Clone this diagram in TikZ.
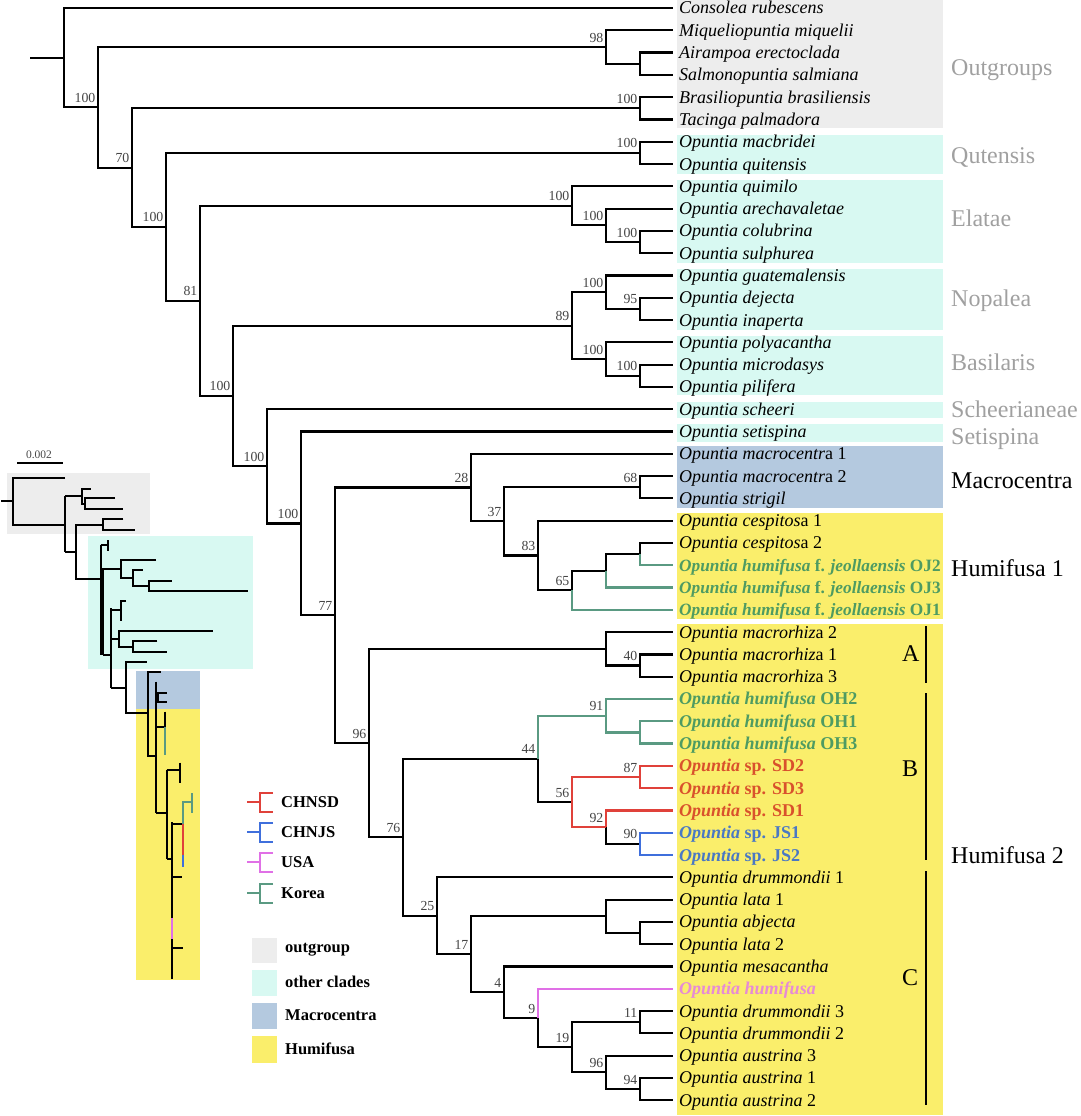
\documentclass[tikz,border=0pt]{standalone}
\usepackage{fontspec}
\setmainfont{Liberation Serif}
\usetikzlibrary{calc}
\definecolor{gbox}{HTML}{EDEDED}
\definecolor{cbox}{HTML}{D8F9F2}
\definecolor{bbox}{HTML}{B4C9DF}
\definecolor{ybox}{HTML}{FAEE6B}
\definecolor{kgreen}{HTML}{5A9A82}
\definecolor{tgreen}{HTML}{4E9B62}
\definecolor{kred}{HTML}{E0413A}
\definecolor{tred}{HTML}{D9512C}
\definecolor{kblue}{HTML}{3F6FDC}
\definecolor{tblue}{HTML}{4A78C4}
\definecolor{kpink}{HTML}{E070E6}
\definecolor{tpink}{HTML}{E68AD6}
\definecolor{cladegray}{HTML}{A0A0A0}
\definecolor{bsgray}{HTML}{444444}
\newcommand\mkleaf[3][black]{%
  \coordinate (t#2) at (673,{8+(#2-1)*22.29});
  \node[leaf,text=#1] (L#2) at (679,{14+(#2-1)*22.29}) {#3};}
\newcommand\mkin[4]{%
  \path let \p1=($(#3)!0.5!(#4)$) in coordinate (#1) at ({round(64+33.88*#2)*1pt},\y1);}
\newcommand\ojfont{\fontsize{17.3}{20}\selectfont}
\tikzset{
  br/.style={line width=2.2pt},
  ins/.style={line width=2pt},
  leaf/.style={anchor=base west, inner sep=0pt, font=\fontsize{18}{20}\selectfont},
  bsl/.style={anchor=base east, inner sep=0pt, text=bsgray, font=\fontsize{13.8}{14}\selectfont},
  clade/.style={anchor=base west, inner sep=0pt, text=cladegray, font=\fontsize{24}{26}\selectfont},
  legtxt/.style={anchor=west, inner sep=0pt, font=\bfseries\fontsize{16.5}{18}\selectfont},
  legicon/.style={line width=2pt},
}
\begin{document}
\begin{tikzpicture}[x=1pt,y=-1pt]
\useasboundingbox (0,0) rectangle (1080,1116);
% ---------- clade boxes (main tree)
\fill[gbox] (677,0) rectangle (943,128);
\fill[cbox] (677,135) rectangle (943,174);
\fill[cbox] (677,180) rectangle (943,263);
\fill[cbox] (677,269) rectangle (943,330);
\fill[cbox] (677,336) rectangle (943,395);
\fill[cbox] (677,402) rectangle (943,418);
\fill[cbox] (677,424) rectangle (943,442);
\fill[bbox] (677,446) rectangle (943,508);
\fill[ybox] (677,513) rectangle (943,619);
\fill[ybox] (677,624) rectangle (943,1115);
% ---------- leaves
\mkleaf{1}{\textit{Consolea rubescens}}
\mkleaf{2}{\textit{Miqueliopuntia miquelii}}
\mkleaf{3}{\textit{Airampoa erectoclada}}
\mkleaf{4}{\textit{Salmonopuntia salmiana}}
\mkleaf{5}{\textit{Brasiliopuntia brasiliensis}}
\mkleaf{6}{\textit{Tacinga palmadora}}
\mkleaf{7}{\textit{Opuntia macbridei}}
\mkleaf{8}{\textit{Opuntia quitensis}}
\mkleaf{9}{\textit{Opuntia quimilo}}
\mkleaf{10}{\textit{Opuntia arechavaletae}}
\mkleaf{11}{\textit{Opuntia colubrina}}
\mkleaf{12}{\textit{Opuntia sulphurea}}
\mkleaf{13}{\textit{Opuntia guatemalensis}}
\mkleaf{14}{\textit{Opuntia dejecta}}
\mkleaf{15}{\textit{Opuntia inaperta}}
\mkleaf{16}{\textit{Opuntia polyacantha}}
\mkleaf{17}{\textit{Opuntia microdasys}}
\mkleaf{18}{\textit{Opuntia pilifera}}
\mkleaf{19}{\textit{Opuntia scheeri}}
\mkleaf{20}{\textit{Opuntia setispina}}
\mkleaf{21}{\textit{Opuntia macrocentr}a 1}
\mkleaf{22}{\textit{Opuntia macrocentr}a 2}
\mkleaf{23}{\textit{Opuntia strigil}}
\mkleaf{24}{\textit{Opuntia cespitos}a 1}
\mkleaf{25}{\textit{Opuntia cespitos}a 2}
\mkleaf[tgreen]{26}{\ojfont\textbf{\textit{Opuntia humifusa} f. \textit{jeollaensis} OJ2}}
\mkleaf[tgreen]{27}{\ojfont\textbf{\textit{Opuntia humifusa} f. \textit{jeollaensis} OJ3}}
\mkleaf[tgreen]{28}{\ojfont\textbf{\textit{Opuntia humifusa} f. \textit{jeollaensis} OJ1}}
\mkleaf{29}{\textit{Opuntia macrorhiz}a 2}
\mkleaf{30}{\textit{Opuntia macrorhiz}a 1}
\mkleaf{31}{\textit{Opuntia macrorhiz}a 3}
\mkleaf[tgreen]{32}{\textbf{\textit{Opuntia humifusa} OH2}}
\mkleaf[tgreen]{33}{\textbf{\textit{Opuntia humifusa} OH1}}
\mkleaf[tgreen]{34}{\textbf{\textit{Opuntia humifusa} OH3}}
\mkleaf[tred]{35}{\textbf{\textit{Opuntia} sp. SD2}}
\mkleaf[tred]{36}{\textbf{\textit{Opuntia} sp. SD3}}
\mkleaf[tred]{37}{\textbf{\textit{Opuntia} sp. SD1}}
\mkleaf[tblue]{38}{\textbf{\textit{Opuntia} sp. JS1}}
\mkleaf[tblue]{39}{\textbf{\textit{Opuntia} sp. JS2}}
\mkleaf{40}{\textit{Opuntia drummondii} 1}
\mkleaf{41}{\textit{Opuntia lata} 1}
\mkleaf{42}{\textit{Opuntia abjecta}}
\mkleaf{43}{\textit{Opuntia lata} 2}
\mkleaf{44}{\textit{Opuntia mesacantha}}
\mkleaf[tpink]{45}{\textbf{\textit{Opuntia humifusa}}}
\mkleaf{46}{\textit{Opuntia drummondii} 3}
\mkleaf{47}{\textit{Opuntia drummondii} 2}
\mkleaf{48}{\textit{Opuntia austrina} 3}
\mkleaf{49}{\textit{Opuntia austrina} 1}
\mkleaf{50}{\textit{Opuntia austrina} 2}
% ---------- internal nodes
\mkin{A34}{17}{t3}{t4}
\mkin{M}{16}{t2}{A34}
\mkin{BT}{17}{t5}{t6}
\mkin{Q}{17}{t7}{t8}
\mkin{E3}{17}{t11}{t12}
\mkin{E2}{16}{t10}{E3}
\mkin{E}{15}{t9}{E2}
\mkin{NO2}{17}{t14}{t15}
\mkin{NO}{16}{t13}{NO2}
\mkin{BA2}{17}{t17}{t18}
\mkin{BA}{16}{t16}{BA2}
\mkin{NB}{15}{NO}{BA}
\mkin{C68}{17}{t22}{t23}
\mkin{G2}{17}{t25}{t26}
\mkin{G1}{16}{G2}{t27}
\mkin{C65}{15}{G1}{t28}
\mkin{C83}{14}{t24}{C65}
\mkin{C37}{13}{C68}{C83}
\mkin{C28}{12}{t21}{C37}
\mkin{A40}{17}{t30}{t31}
\mkin{A1}{16}{t29}{A40}
\mkin{G3}{17}{t33}{t34}
\mkin{C91}{16}{t32}{G3}
\mkin{C87}{17}{t35}{t36}
\mkin{C90}{17}{t38}{t39}
\mkin{C92}{16}{t37}{C90}
\mkin{C56}{15}{C87}{C92}
\mkin{C44}{14}{C91}{C56}
\mkin{X2}{17}{t42}{t43}
\mkin{X1}{16}{t41}{X2}
\mkin{C11}{17}{t46}{t47}
\mkin{C94}{17}{t49}{t50}
\mkin{C96b}{16}{t48}{C94}
\mkin{C19}{15}{C11}{C96b}
\mkin{C9}{14}{t45}{C19}
\mkin{C4}{13}{t44}{C9}
\mkin{C17}{12}{X1}{C4}
\mkin{C25}{11}{t40}{C17}
\mkin{C76}{10}{C44}{C25}
\mkin{C96}{9}{A1}{C76}
\mkin{N9}{8}{C28}{C96}
\mkin{N8}{7}{t20}{N9}
\mkin{N7}{6}{t19}{N8}
\mkin{N6}{5}{NB}{N7}
\mkin{N5}{4}{E}{N6}
\mkin{N4}{3}{Q}{N5}
\mkin{N3}{2}{BT}{N4}
\mkin{N2}{1}{M}{N3}
\mkin{R}{0}{t1}{N2}
\coordinate (R0) at ($(R)+(-34,0)$);
% ---------- branches
\draw[br] (R0) -- (R);
\foreach \a/\b in {R/t1,R/N2,N2/M,N2/N3,M/t2,M/A34,A34/t3,A34/t4,N3/BT,N3/N4,BT/t5,BT/t6,
  N4/Q,N4/N5,Q/t7,Q/t8,N5/E,N5/N6,E/t9,E/E2,E2/t10,E2/E3,E3/t11,E3/t12,N6/NB,N6/N7,
  NB/NO,NB/BA,NO/t13,NO/NO2,NO2/t14,NO2/t15,BA/t16,BA/BA2,BA2/t17,BA2/t18,N7/t19,N7/N8,
  N8/t20,N8/N9,N9/C28,N9/C96,C28/t21,C28/C37,C37/C68,C37/C83,C68/t22,C68/t23,C83/t24,
  C83/C65,C65/G1,G1/G2,G2/t25,C96/A1,C96/C76,A1/t29,A1/A40,A40/t30,A40/t31,C76/C44,
  C76/C25,C44/C56,C92/C90,C25/t40,C25/C17,C17/X1,C17/C4,X1/t41,X1/X2,X2/t42,X2/t43,
  C4/t44,C4/C9,C9/C19,C19/C11,C19/C96b,C11/t46,C11/t47,C96b/t48,C96b/C94,C94/t49,C94/t50}
  {\draw[br] (\a) |- (\b);}
\foreach \a/\b in {G2/t26,G1/t27,C65/t28,C44/C91,C91/t32,C91/G3,G3/t33,G3/t34}
  {\draw[br,kgreen] (\a) |- (\b);}
\foreach \a/\b in {C56/C87,C87/t35,C87/t36,C56/C92,C92/t37}
  {\draw[br,kred] (\a) |- (\b);}
\foreach \a/\b in {C90/t38,C90/t39}
  {\draw[br,kblue] (\a) |- (\b);}
\draw[br,kpink] (C9) |- (t45);
% ---------- bootstrap values
\foreach \n/\v in {N2/100,N3/70,N4/100,N5/81,N6/100,N7/100,N8/100,N9/77,M/98,BT/100,Q/100,
  E/100,E2/100,E3/100,NB/89,NO/100,NO2/95,BA/100,BA2/100,C28/28,C37/37,C68/68,C83/83,
  C65/65,C96/96,A40/40,C76/76,C44/44,C91/91,C56/56,C87/87,C92/92,C90/90,C25/25,C17/17,
  C4/4,C9/9,C19/19,C11/11,C96b/96,C94/94}
  {\node[bsl] (b-\n) at ($(\n)+(-2.5,-5)$) {\v};}
% ---------- clade names
\node[clade] (cl1) at (951,75) {Outgroups};
\node[clade] (cl2) at (951,163) {Qutensis};
\node[clade] (cl3) at (951,226) {Elatae};
\node[clade] (cl4) at (951,306) {Nopalea};
\node[clade] (cl5) at (951,370) {Basilaris};
\node[clade] (cl6) at (951,417) {Scheerianeae};
\node[clade] (cl7) at (951,444) {Setispina};
\node[clade,text=black] (cl8) at (951,488) {Macrocentra};
\node[clade,text=black] (cl9) at (951,576) {Humifusa 1};
\node[clade,text=black] (cl10) at (951,863) {Humifusa 2};
\node[clade,text=black] (sA) at (902,661) {A};
\node[clade,text=black] (sB) at (902,776) {B};
\node[clade,text=black] (sC) at (902,985) {C};
\draw[line width=1.6pt] (926,626) -- (926,683);
\draw[line width=1.6pt] (926,693) -- (926,860);
\draw[line width=1.6pt] (926,871) -- (926,1105);
% ---------- legend
\foreach \y/\c/\t/\nm in {802/kred/CHNSD/lg1,832/kblue/CHNJS/lg2,862/kpink/USA/lg3,893/kgreen/Korea/lg4}{
  \draw[legicon,\c] (247,\y) -- (260,\y);
  \draw[legicon,\c] (273,\y-9.5) -- (260,\y-9.5) -- (260,\y+9.5) -- (273,\y+9.5);
  \node[legtxt] (\nm) at (281,\y) {\t};}
\foreach \ya/\yb/\c/\t/\nm in {938/963/gbox/outgroup/lb1,970/996/cbox/other clades/lb2,
  1003/1029/bbox/Macrocentra/lb3,1036/1063/ybox/Humifusa/lb4}{
  \fill[\c] (252,\ya) rectangle (277,\yb);
  \node[legtxt] (\nm) at (285,{(\ya+\yb)/2-1}) {\t};}
% ---------- inset tree
\fill[gbox] (7,473) rectangle (150,534);
\fill[cbox] (88,536) rectangle (253,669);
\fill[bbox] (136,671) rectangle (200,709);
\fill[ybox] (136,709) rectangle (200,980);
\node[inner sep=0pt,text=bsgray,font=\fontsize{11.5}{12}\selectfont] (sc) at (39,455) {0.002};
\draw[line width=1.8pt] (17,463) -- (63,463);
\draw[ins] (1,500.7) -- (12.7,500.7);
\draw[ins] (65,477.7) -- (12.7,477.7) -- (12.7,524.5) -- (65,524.5);
\draw[ins] (65,496.4) -- (65,551.5);
\draw[ins] (65,496.4) -- (81.7,496.4);
\draw[ins] (90.7,488.5) -- (81.7,488.5) -- (81.7,504.3) -- (85,504.3);
\draw[ins] (115,498.2) -- (85,498.2) -- (85,509) -- (122.7,509);
\draw[ins] (65,551.5) -- (76,551.5);
\draw[ins] (102.7,524.5) -- (76,524.5) -- (76,578.5) -- (100.7,578.5);
\draw[ins] (123.3,518.7) -- (102.7,518.7) -- (102.7,529.5) -- (135,529.5);
\draw[ins] (100.7,545) -- (100.7,655);
\draw[ins] (103,570) -- (103,655);
\draw[ins] (100.7,545) -- (108.3,545);
\draw[ins] (108.3,540) -- (108.3,550.7);
\draw[ins] (100.7,569.3) -- (120.7,569.3);
\draw[ins] (156,560) -- (120.7,560) -- (120.7,578.3) -- (132.7,578.3);
\draw[ins] (142.7,570) -- (132.7,570) -- (132.7,586) -- (149.3,586);
\draw[ins] (171.7,580.7) -- (149.3,580.7) -- (149.3,590.7) -- (248.3,590.7);
\draw[ins] (102.7,655) -- (110.7,655);
\draw[ins] (110.7,608) -- (110.7,688.3);
\draw[ins] (110.7,610) -- (120.7,610);
\draw[ins] (126,600.7) -- (120.7,600.7) -- (120.7,620.7);
\draw[ins] (110.7,638.7) -- (119.3,638.7);
\draw[ins] (212.7,630.7) -- (119.3,630.7) -- (119.3,646.7) -- (133.3,646.7);
\draw[ins] (157.3,641.3) -- (133.3,641.3) -- (133.3,651.7) -- (167.3,651.7);
\draw[ins] (110.7,688.3) -- (126,688.3);
\draw[ins] (146.7,661.7) -- (126,661.7) -- (126,713.3) -- (148.3,713.3);
\draw[ins] (160.7,671.7) -- (148.3,671.7) -- (148.3,756) -- (156,756);
\draw[ins] (156,681.7) -- (156,813.3);
\draw[ins] (156,697) -- (158.3,697);
\draw[ins] (166.7,692.7) -- (158.3,692.7) -- (158.3,701.7) -- (166.7,701.7);
\draw[ins] (156,727.3) -- (165,727.3);
\draw[ins] (165,711.7) -- (165,727.3);
\draw[ins,kgreen] (165,727.3) -- (165,755);
\draw[ins] (156,813.3) -- (166.7,813.3);
\draw[ins] (166.7,770) -- (166.7,859);
\draw[ins] (166.7,770) -- (180,770);
\draw[ins] (180,762.7) -- (180,783.3);
\draw[ins] (166.7,859) -- (171.7,859);
\draw[ins] (171.7,822) -- (171.7,979);
\draw[ins] (171.7,824) -- (182.7,824);
\draw[ins,kred] (182.7,824) -- (182.7,854.6);
\draw[ins,kblue] (182.7,854.6) -- (182.7,867.2);
\draw[ins,kgreen] (183,824) -- (183,801.7) -- (191.7,801.7);
\draw[ins,kgreen] (191.7,793.3) -- (191.7,813.3);
\draw[ins] (171.7,877.3) -- (181.7,877.3);
\draw[ins,kpink] (171.7,917.6) -- (171.7,939.2);
\draw[ins] (171.7,948.2) -- (182.7,948.2);
\end{tikzpicture}
\end{document}
